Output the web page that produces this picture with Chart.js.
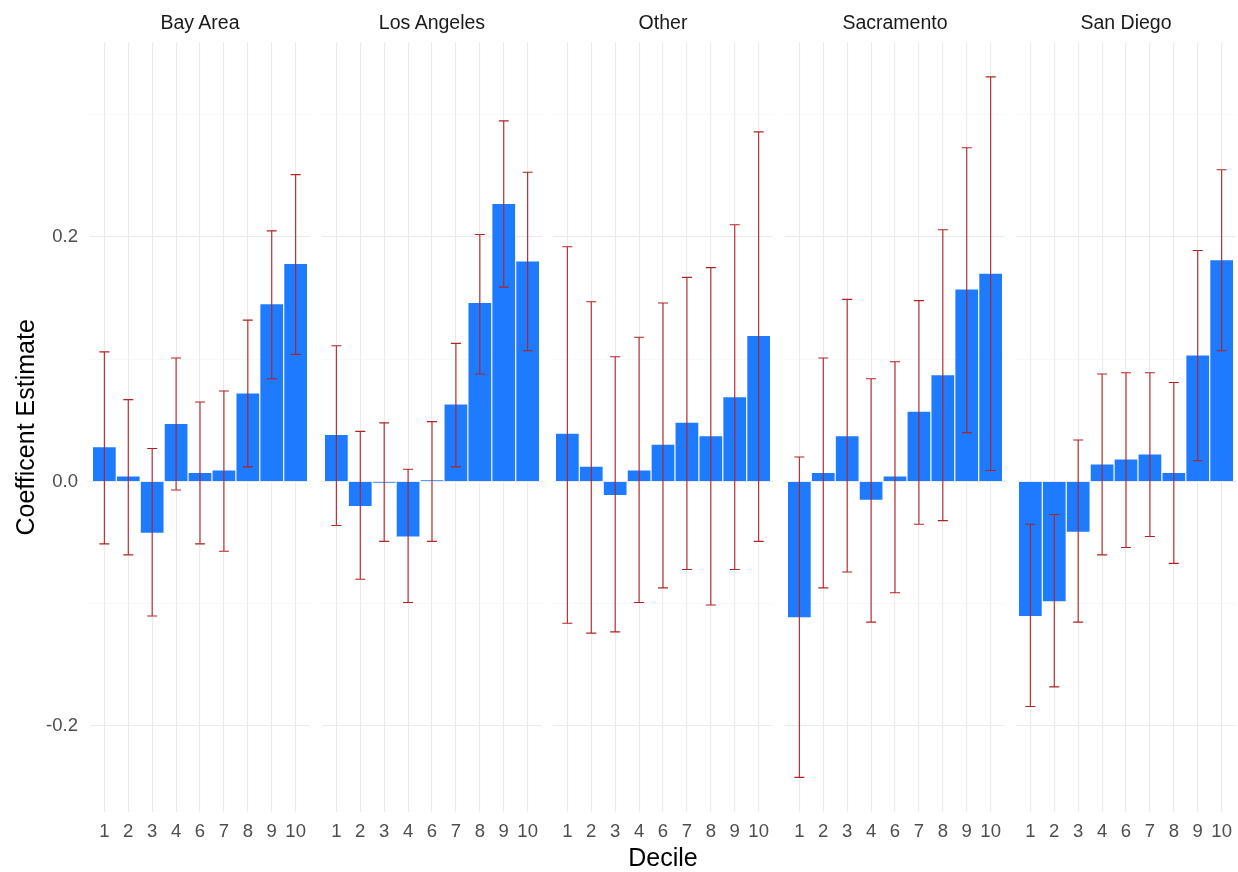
<!DOCTYPE html>
<html>
<head>
<meta charset="utf-8">
<script src="https://cdn.jsdelivr.net/npm/chart.js@4.4.1/dist/chart.umd.min.js"></script>
<style>
  body { margin: 0; background: #ffffff; }
  #wrap { position: relative; width: 1238px; height: 872px; font-family: "Liberation Sans", Arial, sans-serif; }
  #wrap canvas { position: absolute; top: 0; }
  .strip { position: absolute; top: 10px; width: 220px; line-height: 24px; text-align: center; font-size: 19.5px; color: #1a1a1a; }
</style>
</head>
<body>
<div id="wrap"></div>
<script>
// Dados do gráfico
const regioes = ["Bay Area", "Los Angeles", "Other", "Sacramento", "San Diego"];
const decis = ["1", "2", "3", "4", "6", "7", "8", "9", "10"];
const yTicks = [-0.2, -0.1, 0, 0.1, 0.2, 0.3];
const yLimites = [-0.2706, 0.3592];

const bayEst = [0.028, 0.004, -0.042, 0.047, 0.007, 0.009, 0.072, 0.145, 0.178];
const bayLo  = [-0.051, -0.060, -0.110, -0.007, -0.051, -0.057, 0.012, 0.084, 0.104];
const bayHi  = [0.106, 0.067, 0.027, 0.101, 0.065, 0.074, 0.132, 0.205, 0.251];

const laEst = [0.038, -0.020, -0.001, -0.045, 0.001, 0.063, 0.146, 0.227, 0.180];
const laLo  = [-0.036, -0.080, -0.049, -0.099, -0.049, 0.012, 0.088, 0.159, 0.107];
const laHi  = [0.111, 0.041, 0.048, 0.010, 0.049, 0.113, 0.202, 0.295, 0.253];

const otherEst = [0.039, 0.012, -0.011, 0.009, 0.030, 0.048, 0.037, 0.069, 0.119];
const otherLo  = [-0.116, -0.124, -0.123, -0.099, -0.087, -0.072, -0.101, -0.072, -0.049];
const otherHi  = [0.192, 0.147, 0.102, 0.118, 0.146, 0.167, 0.175, 0.210, 0.286];

const sacEst = [-0.111, 0.007, 0.037, -0.015, 0.004, 0.057, 0.087, 0.157, 0.170];
const sacLo  = [-0.242, -0.087, -0.074, -0.115, -0.091, -0.035, -0.032, 0.040, 0.009];
const sacHi  = [0.020, 0.101, 0.149, 0.084, 0.098, 0.148, 0.206, 0.273, 0.331];

const sdEst = [-0.110, -0.098, -0.041, 0.014, 0.018, 0.022, 0.007, 0.103, 0.181];
const sdLo  = [-0.184, -0.168, -0.115, -0.060, -0.054, -0.045, -0.067, 0.017, 0.107];
const sdHi  = [-0.035, -0.027, 0.034, 0.088, 0.089, 0.089, 0.081, 0.189, 0.255];

const estimativas = [bayEst, laEst, otherEst, sacEst, sdEst];
const inferiores = [bayLo, laLo, otherLo, sacLo, sdLo];
const superiores = [bayHi, laHi, otherHi, sacHi, sdHi];

// posição dos painéis (px)
const painelEsq = [90, 322, 553, 785, 1016];
const painelLarg = 220;
const eixoYLarg = 90;
const fonte = '"Liberation Sans", Arial, sans-serif';

// Plugin das barras de erro
const barrasErro = {
  id: "barrasErro",
  afterDatasetsDraw(chart, args, opts) {
    const x = chart.scales.x;
    const y = chart.scales.y;
    const c = chart.ctx;
    c.save();
    c.strokeStyle = "#b22222";
    c.lineWidth = 1.1;
    opts.lo.forEach((lo, i) => {
      const hi = opts.hi[i];
      const px = x.getPixelForValue(i);
      const x0 = x.getPixelForValue(i - 0.21);
      const x1 = x.getPixelForValue(i + 0.21);
      const yl = y.getPixelForValue(lo);
      const yh = y.getPixelForValue(hi);
      c.beginPath();
      c.moveTo(px, yl); c.lineTo(px, yh);
      c.moveTo(x0, yl); c.lineTo(x1, yl);
      c.moveTo(x0, yh); c.lineTo(x1, yh);
      c.stroke();
    });
    c.restore();
  },
};

const wrap = document.getElementById("wrap");

regioes.forEach((nome, k) => {
  const primeiro = k === 0;
  const canvas = document.createElement("canvas");
  const larg = painelLarg + (primeiro ? eixoYLarg : 0);
  canvas.width = larg;
  canvas.height = 872;
  canvas.style.left = (painelEsq[k] - (primeiro ? eixoYLarg : 0)) + "px";
  wrap.appendChild(canvas);

  const strip = document.createElement("div");
  strip.className = "strip";
  strip.style.left = painelEsq[k] + "px";
  strip.textContent = nome;
  wrap.appendChild(strip);

  new Chart(canvas.getContext("2d"), {
    type: "bar",
    data: {
      datasets: [{
        label: nome,
        data: estimativas[k].map((v, i) => ({ x: i, y: v })),
        backgroundColor: "#1E7BFF",
        borderWidth: 0,
        barPercentage: 0.95,
        categoryPercentage: 1,
      }],
    },
    options: {
      responsive: false,
      animation: false,
      devicePixelRatio: 1,
      layout: { padding: { top: 42.4, left: 0, right: 0, bottom: 0 } },
      plugins: {
        legend: { display: false },
        tooltip: { enabled: false },
        barrasErro: { lo: inferiores[k], hi: superiores[k] },
      },
      scales: {
        x: {
          type: "linear",
          offset: false,
          min: -0.6,
          max: decis.length - 1 + 0.6,
          border: { display: false },
          grid: { offset: false, color: "#ebebeb", lineWidth: 1.1, drawTicks: false },
          afterBuildTicks: (s) => { s.ticks = decis.map((d, i) => ({ value: i })); },
          afterFit: (s) => {
            s.height = 59.7;
            s.paddingLeft = 0;
            s.paddingRight = 0;
          },
          ticks: {
            padding: 9,
            autoSkip: false,
            maxRotation: 0,
            color: "#4d4d4d",
            font: { family: fonte, size: 18.5 },
            callback: (v) => decis[v],
          },
          title: {
            display: k === 2,
            text: "Decile",
            color: "#000000",
            font: { family: fonte, size: 25 },
            padding: { top: 0, bottom: -2 },
          },
        },
        y: {
          min: yLimites[0],
          max: yLimites[1],
          border: { display: false },
          afterBuildTicks: (s) => { s.ticks = yTicks.map((v) => ({ value: v })); },
          afterFit: (s) => {
            s.width = primeiro ? eixoYLarg : 0;
            s.paddingTop = 0;
            s.paddingBottom = 0;
          },
          grid: {
            drawTicks: false,
            color: (ctx) => (Math.round(ctx.tick.value * 10) % 2 === 0 ? "#ebebeb" : "#f3f3f3"),
            lineWidth: (ctx) => (Math.round(ctx.tick.value * 10) % 2 === 0 ? 1.1 : 0.6),
          },
          ticks: {
            display: primeiro,
            padding: 12,
            color: "#4d4d4d",
            font: { family: fonte, size: 18.5 },
            callback: (v) => (Math.round(v * 10) % 2 === 0 ? v.toFixed(1) : ""),
          },
          title: {
            display: primeiro,
            text: "Coefficent Estimate",
            color: "#000000",
            font: { family: fonte, size: 25 },
            padding: { top: 12, bottom: 0 },
          },
        },
      },
    },
    plugins: [barrasErro],
  });
});
</script>
</body>
</html>
